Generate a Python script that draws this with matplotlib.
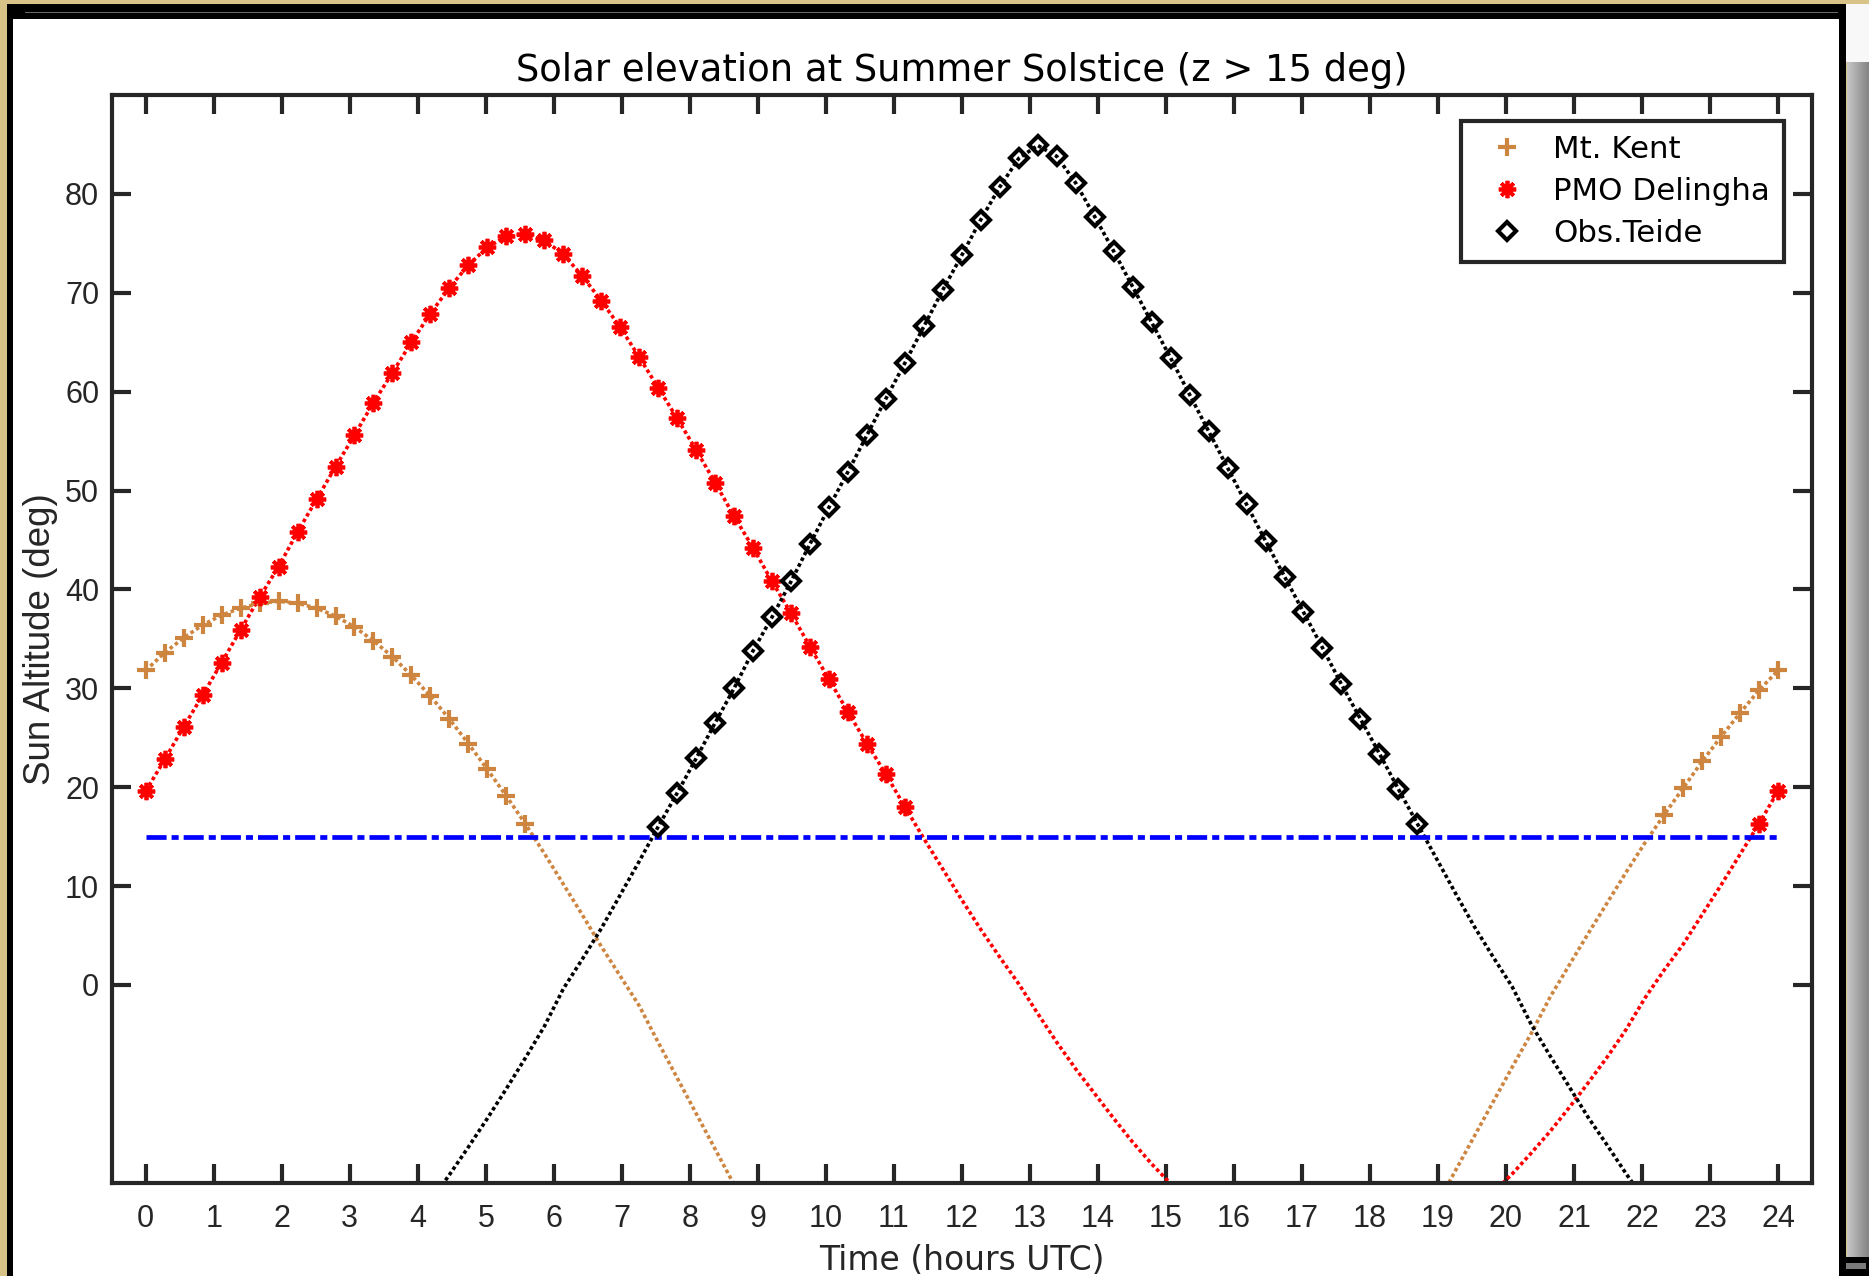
import numpy as np
import matplotlib
matplotlib.use("Agg")
import matplotlib.pyplot as plt
from matplotlib.patches import Rectangle

# 87 samples across the UTC day
hours = np.linspace(0, 24, 87)

nan = np.nan

# sun altitude (deg) at each sample, nan where the curve is far below the plot
mt_kent = ([31.8, 33.6, 35.1, 36.4, 37.4, 38.1, 38.6, 38.8, 38.6, 38.1,
            37.3, 36.2, 34.8, 33.2, 31.3, 29.2, 26.9, 24.4, 21.8, 19.1,
            16.3, 13.3, 10.2, 7.1, 3.9, 0.9, -2.1, -5.8, -9.4, -13.0,
            -16.6, -20.2, -23.8]
           + [nan] * 35
           + [-22.3, -18.8, -15.3, -11.8, -8.3, -4.9, -1.2, 2.0, 5.2, 8.3,
              11.4, 14.4, 17.2, 19.9, 22.6, 25.1, 27.5, 29.8, 31.8])

pmo_delingha = ([19.6, 22.8, 26.1, 29.3, 32.6, 35.9, 39.2, 42.3, 45.8, 49.1,
                 52.4, 55.6, 58.9, 61.9, 65.0, 67.9, 70.5, 72.8, 74.6, 75.7,
                 75.9, 75.3, 73.9, 71.7, 69.2, 66.5, 63.5, 60.4, 57.3, 54.1,
                 50.8, 47.4, 44.2, 40.8, 37.6, 34.2, 30.9, 27.6, 24.4, 21.3,
                 18.0, 14.8, 11.7, 8.6, 5.6, 2.8, 0.1, -2.9, -5.8, -8.5,
                 -11.0, -13.5, -15.9, -18.1, -20.1, -22.0]
                + [nan] * 15
                + [-21.0, -19.1, -17.0, -14.8, -12.4, -9.9, -7.3, -4.5, -1.3, 1.5,
                   4.1, 7.1, 10.1, 13.2, 16.3, 19.6])

obs_teide = ([nan] * 15
             + [-21.9, -19.2, -16.4, -13.5, -10.5, -7.4, -4.2, -0.4, 2.6, 5.7,
                9.1, 12.5, 16.0, 19.4, 22.9, 26.5, 30.0, 33.8, 37.2, 40.8,
                44.6, 48.3, 51.9, 55.6, 59.3, 62.9, 66.6, 70.3, 73.8, 77.4,
                80.7, 83.6, 84.9, 83.8, 81.1, 77.7, 74.2, 70.6, 67.0, 63.4,
                59.7, 56.0, 52.3, 48.6, 44.9, 41.3, 37.7, 34.1, 30.4, 26.9,
                23.4, 19.8, 16.3, 12.8, 9.3, 5.9, 2.8, -0.2, -4.0, -7.2,
                -10.3, -13.4, -16.2, -19.1, -21.8]
             + [nan] * 7)

sites = ["Mt. Kent", "PMO Delingha", "Obs.Teide"]
min_altitude = 15
limit_span = [0, 24]
x_ticks = list(range(0, 25))
y_ticks = list(range(0, 81, 10))

W, H = 1869, 1276
AX_COLOR = "#262626"
KENT_COLOR = "#cd8540"


def px_rect(fig, x0, y0, x1, y1, color, z=-10):
    # rectangle given in pixel coords measured from the top-left corner
    r = Rectangle((x0 / W, 1 - y1 / H), (x1 - x0) / W, (y1 - y0) / H,
                  transform=fig.transFigure, facecolor=color, edgecolor="none",
                  zorder=z)
    fig.patches.append(r)


fig = plt.figure(figsize=(W / 100, H / 100), dpi=100, facecolor="#d8c386")

# window frame
px_rect(fig, 7, 4, 1846, H + 2, "black")
px_rect(fig, 13, 19, 1839, H + 2, "white")
px_rect(fig, 25, 11.5, 1838, 13, "#6a6a6a")
px_rect(fig, 1846, 4, W + 2, 62, "#f8f8f8")
px_rect(fig, 1839, 1257, W + 2, H + 2, "black")
px_rect(fig, 1846, 1263, 1866, 1269, "#7a7a7a")

shadow = fig.add_axes([1847 / W, 1 - 1257 / H, 22 / W, (1257 - 62) / H])
shadow.imshow(np.linspace(0.78, 0.52, 32)[None, :], aspect="auto",
              cmap="gray", vmin=0, vmax=1)
shadow.axis("off")

ax = fig.add_axes([111.7 / W, 1 - 1182.7 / H, (1812 - 111.7) / W, (1182.7 - 95) / H])
ax.set_facecolor("white")

dotted = (0, (1, 0.8))
series = [
    (mt_kent, KENT_COLOR, dict(marker="+", ms=13, mew=3)),
    (pmo_delingha, "red", dict(marker=(8, 2, 0), ms=12.5, mew=2.7)),
    (obs_teide, "black", dict(marker="D", ms=9.5, mew=3, mfc="none")),
]

for (alt, color, mk), name in zip(series, sites):
    alt = np.array(alt, dtype=float)
    ax.plot(hours, alt, linestyle=dotted, color=color, lw=2.6, zorder=2)
    above = np.where(alt > min_altitude, alt, np.nan)
    ax.plot(hours, above, linestyle="none", color=color, label=name,
            zorder=4, **mk)

ax.plot(limit_span, [min_altitude, min_altitude], color="blue", lw=3.4,
        linestyle="-.", dashes=[4.25, 1.06, 1.5, 1.06], zorder=3)

ax.set_xlim(-0.5, 24.5)
ax.set_ylim(-20, 90)
ax.set_xticks(x_ticks)
ax.set_yticks(y_ticks)

for s in ax.spines.values():
    s.set_linewidth(3)
    s.set_color(AX_COLOR)

ax.tick_params(direction="in", length=13.5, width=3, color=AX_COLOR,
               top=True, right=True, labelcolor=AX_COLOR)
ax.tick_params(axis="x", pad=15.5)
ax.tick_params(axis="y", pad=9)
for lab in ax.get_xticklabels() + ax.get_yticklabels():
    lab.set_fontfamily("Liberation Sans")
    lab.set_fontsize(22)

ax.set_title("Solar elevation at Summer Solstice (z > 15 deg)",
             fontfamily="DejaVu Sans", fontsize=26.6, color="black", pad=10)
ax.set_xlabel("Time (hours UTC)", fontfamily="DejaVu Sans", fontsize=23.8,
              color=AX_COLOR, va="top")
ax.xaxis.set_label_coords(0.5, -0.0564)
ax.set_ylabel("Sun Altitude (deg)", fontfamily="Liberation Sans", fontsize=26.5,
              color=AX_COLOR)
ax.yaxis.set_label_coords(-0.0316, 0.5)

leg = ax.legend(loc="upper right", bbox_to_anchor=(0.9835, 0.9761),
                borderaxespad=0, prop={"family": "DejaVu Sans", "size": 22.2},
                fancybox=False, framealpha=1, edgecolor=AX_COLOR,
                borderpad=0.45, handlelength=2.1, handletextpad=0.45,
                labelspacing=0.42)
leg.get_frame().set_linewidth(3)

fig.savefig("out.png", dpi=100, facecolor=fig.get_facecolor())
